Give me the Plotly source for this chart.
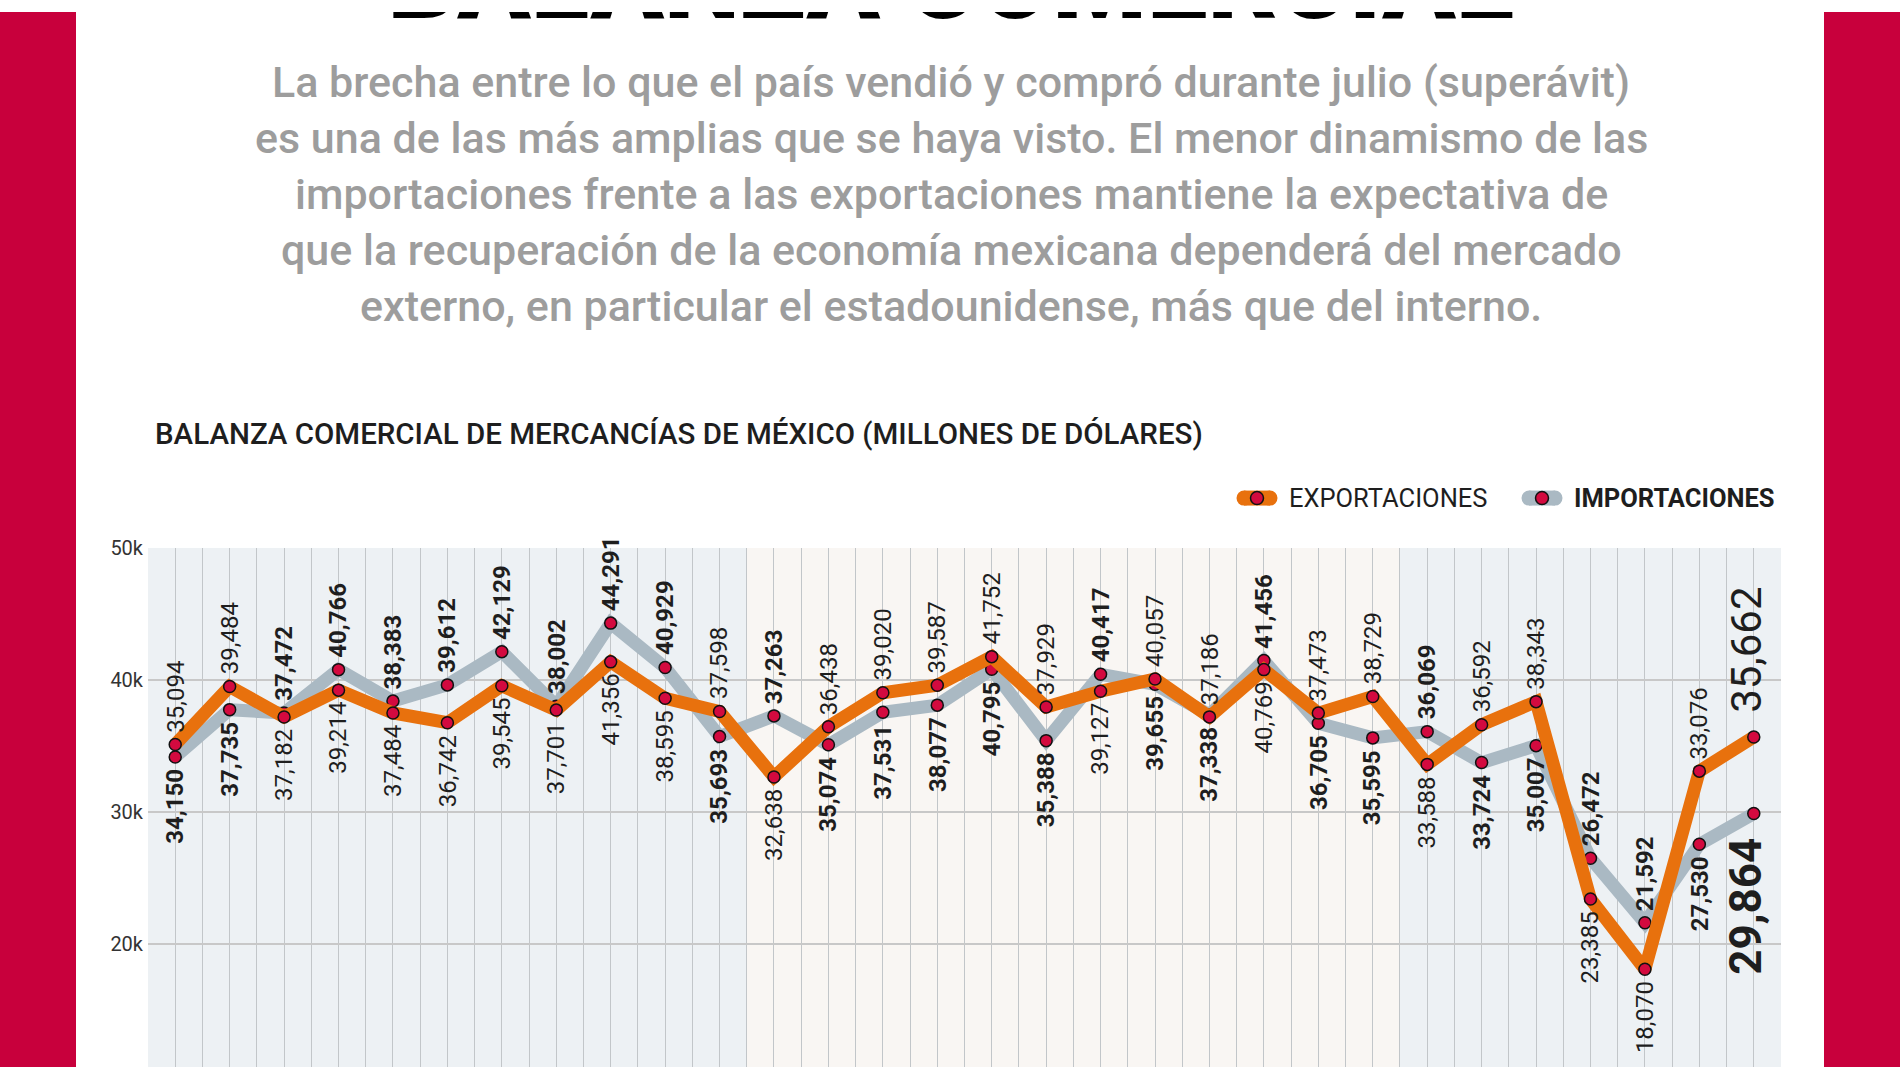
import plotly.graph_objects as go

# ---------------- data ----------------
months = [
    "feb-2018", "mar-2018", "abr-2018", "may-2018", "jun-2018", "jul-2018",
    "ago-2018", "sep-2018", "oct-2018", "nov-2018", "dic-2018",
    "ene-2019", "feb-2019", "mar-2019", "abr-2019", "may-2019", "jun-2019",
    "jul-2019", "ago-2019", "sep-2019", "oct-2019", "nov-2019", "dic-2019",
    "ene-2020", "feb-2020", "mar-2020", "abr-2020", "may-2020", "jun-2020",
    "jul-2020",
]
exportaciones = [35094, 39484, 37182, 39214, 37484, 36742, 39545, 37701, 41356, 38595,
                 37598, 32638, 36438, 39020, 39587, 41752, 37929, 39127, 40057, 37186,
                 40769, 37473, 38729, 33588, 36592, 38343, 23385, 18070, 33076, 35662]
importaciones = [34150, 37735, 37472, 40766, 38383, 39612, 42129, 38002, 44291, 40929,
                 35693, 37263, 35074, 37531, 38077, 40795, 35388, 40417, 39655, 37338,
                 41456, 36705, 35595, 36069, 33724, 35007, 26472, 21592, 27530, 29864]
y_ticks = [20000, 30000, 40000, 50000]

title_main = "BALANZA COMERCIAL"
subtitle_lines = [
    "La brecha entre lo que el país vendió y compró durante julio (superávit)",
    "es una de las más amplias que se haya visto. El menor dinamismo de las",
    "importaciones frente a las exportaciones mantiene la expectativa de",
    "que la recuperación de la economía mexicana dependerá del mercado",
    "externo, en particular el estadounidense, más que del interno.",
]
chart_title = "BALANZA COMERCIAL DE MERCANCÍAS DE MÉXICO (MILLONES DE DÓLARES)"
legend_names = ["EXPORTACIONES", "IMPORTACIONES"]

# ---------------- style ----------------
W, H = 1900, 1067
FONT = "Roboto"
ORANGE = "#e8710d"
GREY = "#aab9c3"
RED = "#d30a3f"
CRIMSON = "#c8003c"
BLUE_BG = "#edf1f4"
BEIGE_BG = "#f9f6f3"
TXT = "#1e1e1e"

# vertical calibration of the page capture (observed offset / compression)
CAP_OFF = 12
CAP_SQ = 1067 / 1079

def px_x(p):
    return p / W

def px_y(p):
    """paper y for a target pixel row p (from the top) in the final picture"""
    return min(1.0, max(0.0, 1 - (p / CAP_SQ - CAP_OFF) / H))

x = list(range(len(months)))
Y_MIN, Y_MAX = 10660, 50000

fig = go.Figure()
fig.add_trace(go.Scatter(
    x=x, y=importaciones, name=legend_names[1], mode="lines+markers",
    line=dict(color=GREY, width=13),
    marker=dict(color=RED, size=12, line=dict(color="#111", width=1.5)),
    text=months, hovertemplate="%{text}: %{y:,}<extra>Importaciones</extra>",
))
fig.add_trace(go.Scatter(
    x=x, y=exportaciones, name=legend_names[0], mode="lines+markers",
    line=dict(color=ORANGE, width=13),
    marker=dict(color=RED, size=12, line=dict(color="#111", width=1.5)),
    text=months, hovertemplate="%{text}: %{y:,}<extra>Exportaciones</extra>",
))

# big page title, clipped by a top strip subplot (only its lower part shows)
TOP_STRIP = 100
TITLE_SIZE = 108
TITLE_BASELINE = 6
fig.add_trace(go.Scatter(
    x=[951], y=[TOP_STRIP - TITLE_BASELINE + 0.25 * TITLE_SIZE],
    xaxis="x2", yaxis="y2", mode="text", text=[title_main],
    textposition="middle center", cliponaxis=True, hoverinfo="skip",
    textfont=dict(family=FONT, size=TITLE_SIZE, color="#000", weight=900),
))

shapes = []
shapes.append(dict(type="rect", xref="paper", yref="paper", x0=0, x1=px_x(76), y0=0, y1=1,
                   fillcolor=CRIMSON, line=dict(width=0), layer="below"))
shapes.append(dict(type="rect", xref="paper", yref="paper", x0=px_x(1824), x1=1, y0=0, y1=1,
                   fillcolor=CRIMSON, line=dict(width=0), layer="below"))

# yearly background bands
years = [m.split("-")[1] for m in months]
start = 0
k = 0
for i in range(1, len(years) + 1):
    if i == len(years) or years[i] != years[start]:
        shapes.append(dict(type="rect", xref="x", yref="y", x0=start - 0.5, x1=i - 0.5,
                           y0=Y_MIN, y1=Y_MAX, fillcolor=BLUE_BG if k % 2 == 0 else BEIGE_BG,
                           line=dict(width=0), layer="below"))
        k += 1
        start = i

# custom legend pills
leg_centers = [(px_x(1257), px_y(498), ORANGE), (px_x(1542), px_y(498), GREY)]
for cx, cy, col in leg_centers:
    common = dict(xref="paper", yref="paper", xsizemode="pixel", ysizemode="pixel",
                  xanchor=cx, yanchor=cy, fillcolor=col, line=dict(width=0))
    shapes.append(dict(type="rect", x0=-13, x1=13, y0=-7.5, y1=7.5, **common))
    shapes.append(dict(type="circle", x0=-20.5, x1=-5.5, y0=-7.5, y1=7.5, **common))
    shapes.append(dict(type="circle", x0=5.5, x1=20.5, y0=-7.5, y1=7.5, **common))
    shapes.append(dict(type="circle", xref="paper", yref="paper", xsizemode="pixel",
                       ysizemode="pixel", xanchor=cx, yanchor=cy, x0=-6.5, x1=6.5,
                       y0=-6.5, y1=6.5, fillcolor=RED, line=dict(color="#111", width=1.5)))

annotations = []
for j, line in enumerate(subtitle_lines):
    annotations.append(dict(text=line, xref="paper", yref="paper", x=px_x(951),
                            y=px_y(82 + j * 56.1), xanchor="center", yanchor="middle",
                            showarrow=False,
                            font=dict(family=FONT, size=43, color="#9d9d9d", weight=500)))
annotations.append(dict(text=chart_title, xref="paper", yref="paper", x=px_x(153),
                        y=px_y(434), xanchor="left", yanchor="middle", showarrow=False,
                        font=dict(family=FONT, size=29.5, color=TXT, weight=500)))
annotations.append(dict(text=legend_names[0], xref="paper", yref="paper", x=px_x(1287),
                        y=px_y(498), xanchor="left", yanchor="middle", showarrow=False,
                        font=dict(family=FONT, size=25.5, color=TXT, weight=400)))
annotations.append(dict(text=legend_names[1], xref="paper", yref="paper", x=px_x(1572),
                        y=px_y(498), xanchor="left", yanchor="middle", showarrow=False,
                        font=dict(family=FONT, size=25.5, color=TXT, weight=700)))

# value labels
n = len(months)
for i in range(n):
    e, m = exportaciones[i], importaciones[i]
    exp_top = e >= m - 200
    last = i == n - 1
    for val, is_imp in ((e, False), (m, True)):
        top = (not exp_top) if is_imp else exp_top
        gap = 22 if last else 10
        annotations.append(dict(
            x=i, y=val, xref="x", yref="y", text=f"{val:,}", textangle=-90,
            showarrow=False, yanchor="bottom" if top else "top",
            yshift=gap if top else -gap, xshift=-8 if last else 0,
            font=dict(family=FONT, size=(44 if is_imp else 42) if last else 24,
                      color=TXT, weight=700 if is_imp else 400),
        ))

fig.update_layout(
    width=W, height=H, margin=dict(l=0, r=0, t=0, b=0),
    paper_bgcolor="white", plot_bgcolor="rgba(0,0,0,0)",
    showlegend=False, shapes=shapes, annotations=annotations,
    font=dict(family=FONT, color=TXT),
    xaxis=dict(domain=[px_x(148), px_x(1781)], range=[-0.5, n - 0.5],
               tick0=-0.5, dtick=0.5, showgrid=True, gridcolor="#c2c6c9", gridwidth=1,
               showticklabels=False, ticks="", zeroline=False, showline=False,
               fixedrange=True),
    yaxis=dict(domain=[px_y(H), px_y(547.7)], range=[Y_MIN, Y_MAX], tickvals=y_ticks,
               tickformat="~s", showgrid=True, gridcolor="#c8c8c8", gridwidth=2,
               zeroline=False, showline=False, ticks="", ticklabelstandoff=4,
               tickfont=dict(family=FONT, size=20, color="#333"), fixedrange=True),
    xaxis2=dict(domain=[0, 1], range=[0, W], visible=False, anchor="y2",
                fixedrange=True),
    yaxis2=dict(domain=[1 - TOP_STRIP / H, 1], range=[0, TOP_STRIP], visible=False,
                anchor="x2", fixedrange=True),
)

fig.write_html(
    "out.html",
    config={"displayModeBar": False},
    post_script="document.body.style.margin='0';document.body.style.overflow='hidden';",
)
